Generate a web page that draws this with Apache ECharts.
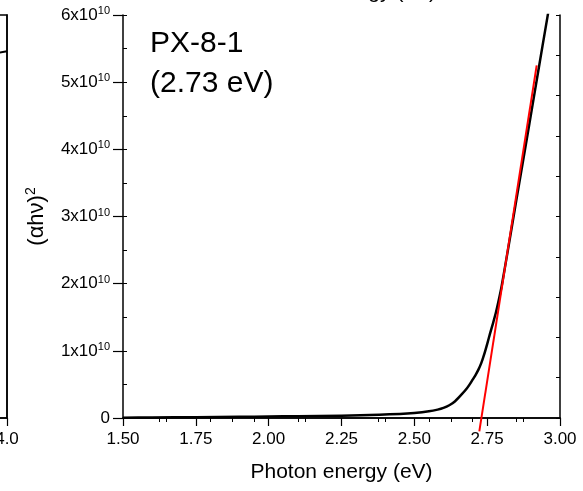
<!DOCTYPE html>
<html>
<head>
<meta charset="utf-8">
<script src="https://cdn.jsdelivr.net/npm/echarts@6/dist/echarts.min.js"></script>
<style>
  html, body { margin: 0; padding: 0; background: #fff; }
  #main { width: 583px; height: 491px; }
</style>
</head>
<body>
<div id="main"></div>
<script>
// photon energy (eV) and (alpha h nu)^2
var energy = [1.50, 1.60, 1.75, 1.90, 2.00, 2.10, 2.25, 2.38, 2.45, 2.50, 2.55, 2.58, 2.60, 2.62,
              2.64, 2.66, 2.68, 2.69, 2.70, 2.71, 2.72, 2.73, 2.74, 2.75, 2.76, 2.77, 2.78, 2.79,
              2.80, 2.82, 2.85, 2.88, 2.91, 2.94, 2.975];
var ahv2 = [0.005e10, 0.008e10, 0.012e10, 0.018e10, 0.022e10, 0.027e10, 0.035e10, 0.05e10, 0.06e10,
            0.075e10, 0.10e10, 0.125e10, 0.15e10, 0.19e10, 0.25e10, 0.34e10, 0.44e10, 0.50e10,
            0.57e10, 0.64e10, 0.72e10, 0.82e10, 0.95e10, 1.10e10, 1.26e10, 1.41e10, 1.57e10,
            1.76e10, 1.97e10, 2.47e10, 3.24e10, 4.0e10, 4.77e10, 5.54e10, 6.43e10];
// linear fit (Tauc extrapolation), band gap 2.73 eV
var fitX = [2.723, 2.92];
var fitY = [-0.2e10, 5.25e10];
// edge of the neighbouring panel on the left
var leftX = [3.9, 4.0];
var leftY = [0.905, 0.91];

var xTicks = [1.5, 3.0, 0.25];
var yTicks = [0, 6e10, 1e10];

var curve = energy.map(function (e, i) { return [e, ahv2[i]]; });
var fit = fitX.map(function (e, i) { return [e, fitY[i]]; });
var leftEdge = leftX.map(function (e, i) { return [e, leftY[i]]; });

var font = 'Liberation Sans, Arial, sans-serif';

var myChart = echarts.init(document.getElementById('main'));
var option = {
  backgroundColor: '#fff',
  animation: false,
  textStyle: { fontFamily: font },
  grid: [
    { left: 123, right: 23, top: 15, bottom: 73, outerBoundsMode: 'none', containLabel: false },
    { left: -100, width: 107, top: 15, bottom: 73, outerBoundsMode: 'none', containLabel: false,
      show: true, borderColor: '#000', borderWidth: 1.5, backgroundColor: 'transparent' }
  ],
  graphic: [
    {
      type: 'text', left: 150, top: 24,
      style: { text: 'PX-8-1\n(2.73 eV)', font: '30px ' + font, fill: '#000', lineHeight: 40 }
    },
    {
      type: 'text', x: 345, y: -8,
      style: { text: 'Photon energy (eV)', font: '21px ' + font, fill: '#000', align: 'center', verticalAlign: 'middle' }
    }
  ],
  xAxis: [
    {
      gridIndex: 0, type: 'value', position: 'bottom',
      min: xTicks[0], max: xTicks[1], interval: xTicks[2],
      name: 'Photon energy (eV)', nameLocation: 'middle', nameGap: 44,
      nameTextStyle: { fontSize: 21, color: '#000', fontFamily: font },
      axisLine: { lineStyle: { color: '#000', width: 1.5 } },
      axisTick: { length: 8, lineStyle: { color: '#000', width: 1.2 } },
      minorTick: { show: true, splitNumber: 2, length: 4, lineStyle: { color: '#000', width: 1 } },
      axisLabel: { fontSize: 17, color: '#000', margin: 13, formatter: function (v) { return v.toFixed(2); } },
      splitLine: { show: false }
    },
    {
      gridIndex: 0, type: 'value', position: 'top',
      min: 1.5, max: 3.0, interval: 0.15,
      axisLine: { lineStyle: { color: '#000', width: 1.5 } },
      axisTick: { inside: true, length: 4, lineStyle: { color: '#000', width: 1 } },
      axisLabel: { show: false }, splitLine: { show: false }
    },
    {
      gridIndex: 1, type: 'value', position: 'bottom',
      min: 3.0, max: 4.0, interval: 0.5,
      axisLine: { lineStyle: { color: '#000', width: 1.5 } },
      axisTick: { length: 8, lineStyle: { color: '#000', width: 1.2 } },
      axisLabel: { fontSize: 17, color: '#000', margin: 13, formatter: function (v) { return v.toFixed(1); } },
      splitLine: { show: false }
    }
  ],
  yAxis: [
    {
      gridIndex: 0, type: 'value', position: 'left',
      min: yTicks[0], max: yTicks[1], interval: yTicks[2],
      name: '{a|(\u03b1h\u03bd)}{s|2}', nameLocation: 'middle', nameGap: 74, nameRotate: 90,
      nameTextStyle: {
        rich: {
          a: { fontSize: 22, color: '#000', fontFamily: font },
          s: { fontSize: 14, color: '#000', fontFamily: font, padding: [0, 0, 11, 0] }
        }
      },
      axisLine: { show: true, lineStyle: { color: '#000', width: 1.5 } },
      axisTick: { show: true, length: 10, lineStyle: { color: '#000', width: 1.2 } },
      axisLabel: {
        margin: 13,
        formatter: function (v) {
          if (v === 0) return '{a|0}';
          return '{a|' + Math.round(v / 1e10) + 'x10}{s|10}';
        },
        rich: {
          a: { fontSize: 17, color: '#000', fontFamily: font },
          s: { fontSize: 11, color: '#000', fontFamily: font, padding: [0, 0, 8, 0] }
        }
      },
      splitLine: { show: false }
    },
    {
      gridIndex: 0, type: 'value', position: 'left',
      min: 0, max: 6e10, interval: 0.5e10,
      axisLine: { show: false },
      axisTick: { show: true, inside: true, length: 4, lineStyle: { color: '#000', width: 1 } },
      axisLabel: { show: false }, splitLine: { show: false }
    },
    {
      gridIndex: 0, type: 'value', position: 'right',
      min: 0, max: 6e10, interval: 0.6e10,
      axisLine: { show: true, lineStyle: { color: '#000', width: 1.5 } },
      axisTick: { show: true, inside: true, length: 4, lineStyle: { color: '#000', width: 1 } },
      axisLabel: { show: false }, splitLine: { show: false }
    },
    {
      gridIndex: 1, type: 'value', position: 'right',
      min: 0, max: 1,
      axisLine: { show: true, lineStyle: { color: '#000', width: 1.5 } },
      axisTick: { show: false }, axisLabel: { show: false }, splitLine: { show: false }
    }
  ],
  series: [
    {
      name: 'curve', type: 'line', xAxisIndex: 0, yAxisIndex: 0,
      data: curve, showSymbol: false, smooth: 0.2,
      lineStyle: { color: '#000', width: 2.5, join: 'round' }
    },
    {
      name: 'fit', type: 'line', xAxisIndex: 0, yAxisIndex: 0,
      data: fit, showSymbol: false, clip: false,
      lineStyle: { color: '#ff0000', width: 2 }
    },
    {
      name: 'left', type: 'line', xAxisIndex: 2, yAxisIndex: 3,
      data: leftEdge, showSymbol: false,
      lineStyle: { color: '#000', width: 2 }
    }
  ]
};
myChart.setOption(option);
</script>
</body>
</html>
